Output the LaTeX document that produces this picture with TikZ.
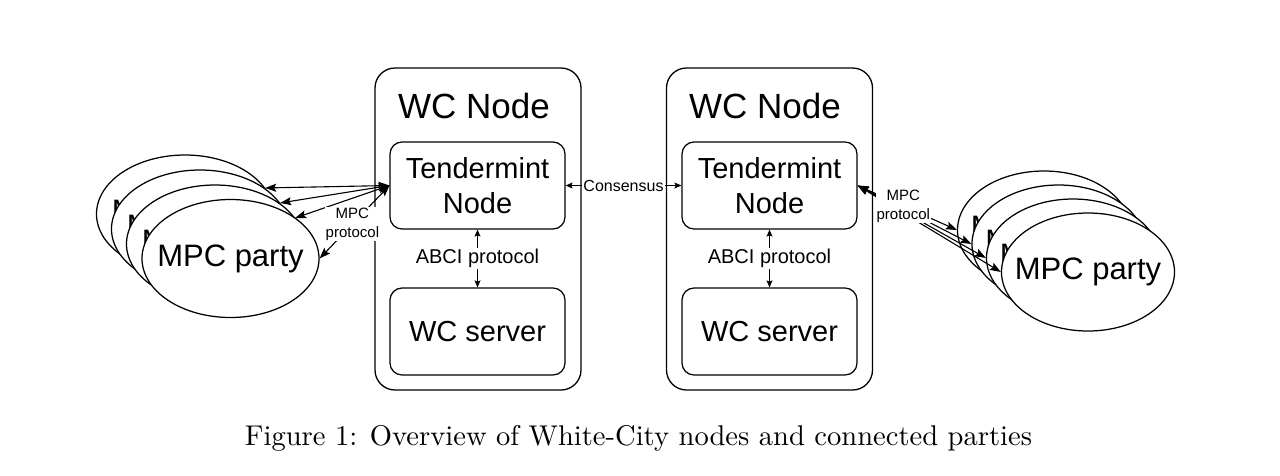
\documentclass[tikz,border=0pt]{standalone}
\usepackage{fontspec}
\usepackage{graphicx}
\newfontfamily\arialf{Liberation Sans}
\usetikzlibrary{arrows.meta,shapes.geometric}
\begin{document}
\begin{tikzpicture}[x=1pt,y=-1pt,
  outerbox/.style={draw, line width=1.3pt, rounded corners=20pt, minimum width=206pt, minimum height=322pt, inner sep=0pt},
  innerbox/.style={draw, line width=1.25pt, rounded corners=12pt, minimum width=175pt, minimum height=87pt, inner sep=0pt, align=center, font=\arialf\fontsize{29}{35}\selectfont},
  titletext/.style={font=\arialf\fontsize{35}{40}\selectfont, inner sep=0pt},
  party/.style={ellipse, draw, fill=white, line width=1.25pt, minimum width=177pt, minimum height=118pt, inner sep=0pt,
    label={[font=\arialf\fontsize{31}{37}\selectfont, inner sep=0pt]center:MPC party}},
  rparty/.style={party, minimum width=173pt},
  conn/.style={line width=1.1pt, {Stealth[length=11pt,width=8pt,inset=2pt]}-{Stealth[length=11pt,width=8pt,inset=2pt]}},
  smallconn/.style={line width=1.1pt, {Stealth[length=7pt,width=6pt,inset=1.5pt]}-{Stealth[length=7pt,width=6pt,inset=1.5pt]}},
  lbl/.style={fill=white, inner sep=1pt, align=center, font=\arialf\fontsize{15}{19}\selectfont},
]
\useasboundingbox (0,0) rectangle (1280,475);

% WC node boxes
\node[outerbox] (wc1) at (478,229) {};
\node[titletext] (t1) at (474,106) {WC Node};
\node[innerbox] (tn1) at (477.5,185.5) {Tendermint\\Node};
\node[innerbox] (ws1) at (477.5,331.5) {WC server};

\node[outerbox] (wc2) at (769.5,229) {};
\node[titletext] (t2) at (765,106) {WC Node};
\node[innerbox] (tn2) at (769.5,185.5) {Tendermint\\Node};
\node[innerbox] (ws2) at (769.5,331.5) {WC server};

% internal connectors
\draw[smallconn] (tn1.east) -- node[lbl, font=\arialf\fontsize{16}{19}\selectfont] (cons) {Consensus} (tn2.west);
\draw[smallconn] (tn1.south) -- node[lbl, font=\arialf\fontsize{20}{24}\selectfont] (abci1) {ABCI protocol} (ws1.north);
\draw[smallconn] (tn2.south) -- node[lbl, font=\arialf\fontsize{20}{24}\selectfont] (abci2) {ABCI protocol} (ws2.north);

% left MPC parties
\node[party] (L1) at (185,214) {};
\node[party] (L2) at (200,229) {};
\node[party] (L3) at (215,244) {};
\node[party] (L4) at (230.5,258.5) {};

% right MPC parties
\node[rparty] (R1) at (1044,230) {};
\node[rparty] (R2) at (1058.5,244) {};
\node[rparty] (R3) at (1073,258) {};
\node[rparty] (R4) at (1088,272) {};

% left MPC connectors
\draw[conn] (tn1.west) -- (L1.18);
\draw[conn] (tn1.west) -- (L2.18);
\draw[conn] (tn1.west) -- (L3.18);
\draw[conn] (tn1.west) -- node[lbl, pos=0.53] (mpcl) {MPC\\protocol} (L4.east);

% right MPC connectors
\draw[conn] (tn2.east) -- (R4.west);
\draw[conn] (tn2.east) -- (R3.west);
\draw[conn] (tn2.east) -- (R2.west);
\draw[conn] (tn2.east) -- node[lbl, pos=0.46] (mpcr) {MPC\\protocol} (R1.west);

% caption
\node[anchor=base, inner sep=0pt] (cap) at (638.5,445)
  {\resizebox{787pt}{!}{\fontsize{10}{12}\selectfont Figure 1: Overview of White-City nodes and connected parties}};
\end{tikzpicture}
\end{document}
